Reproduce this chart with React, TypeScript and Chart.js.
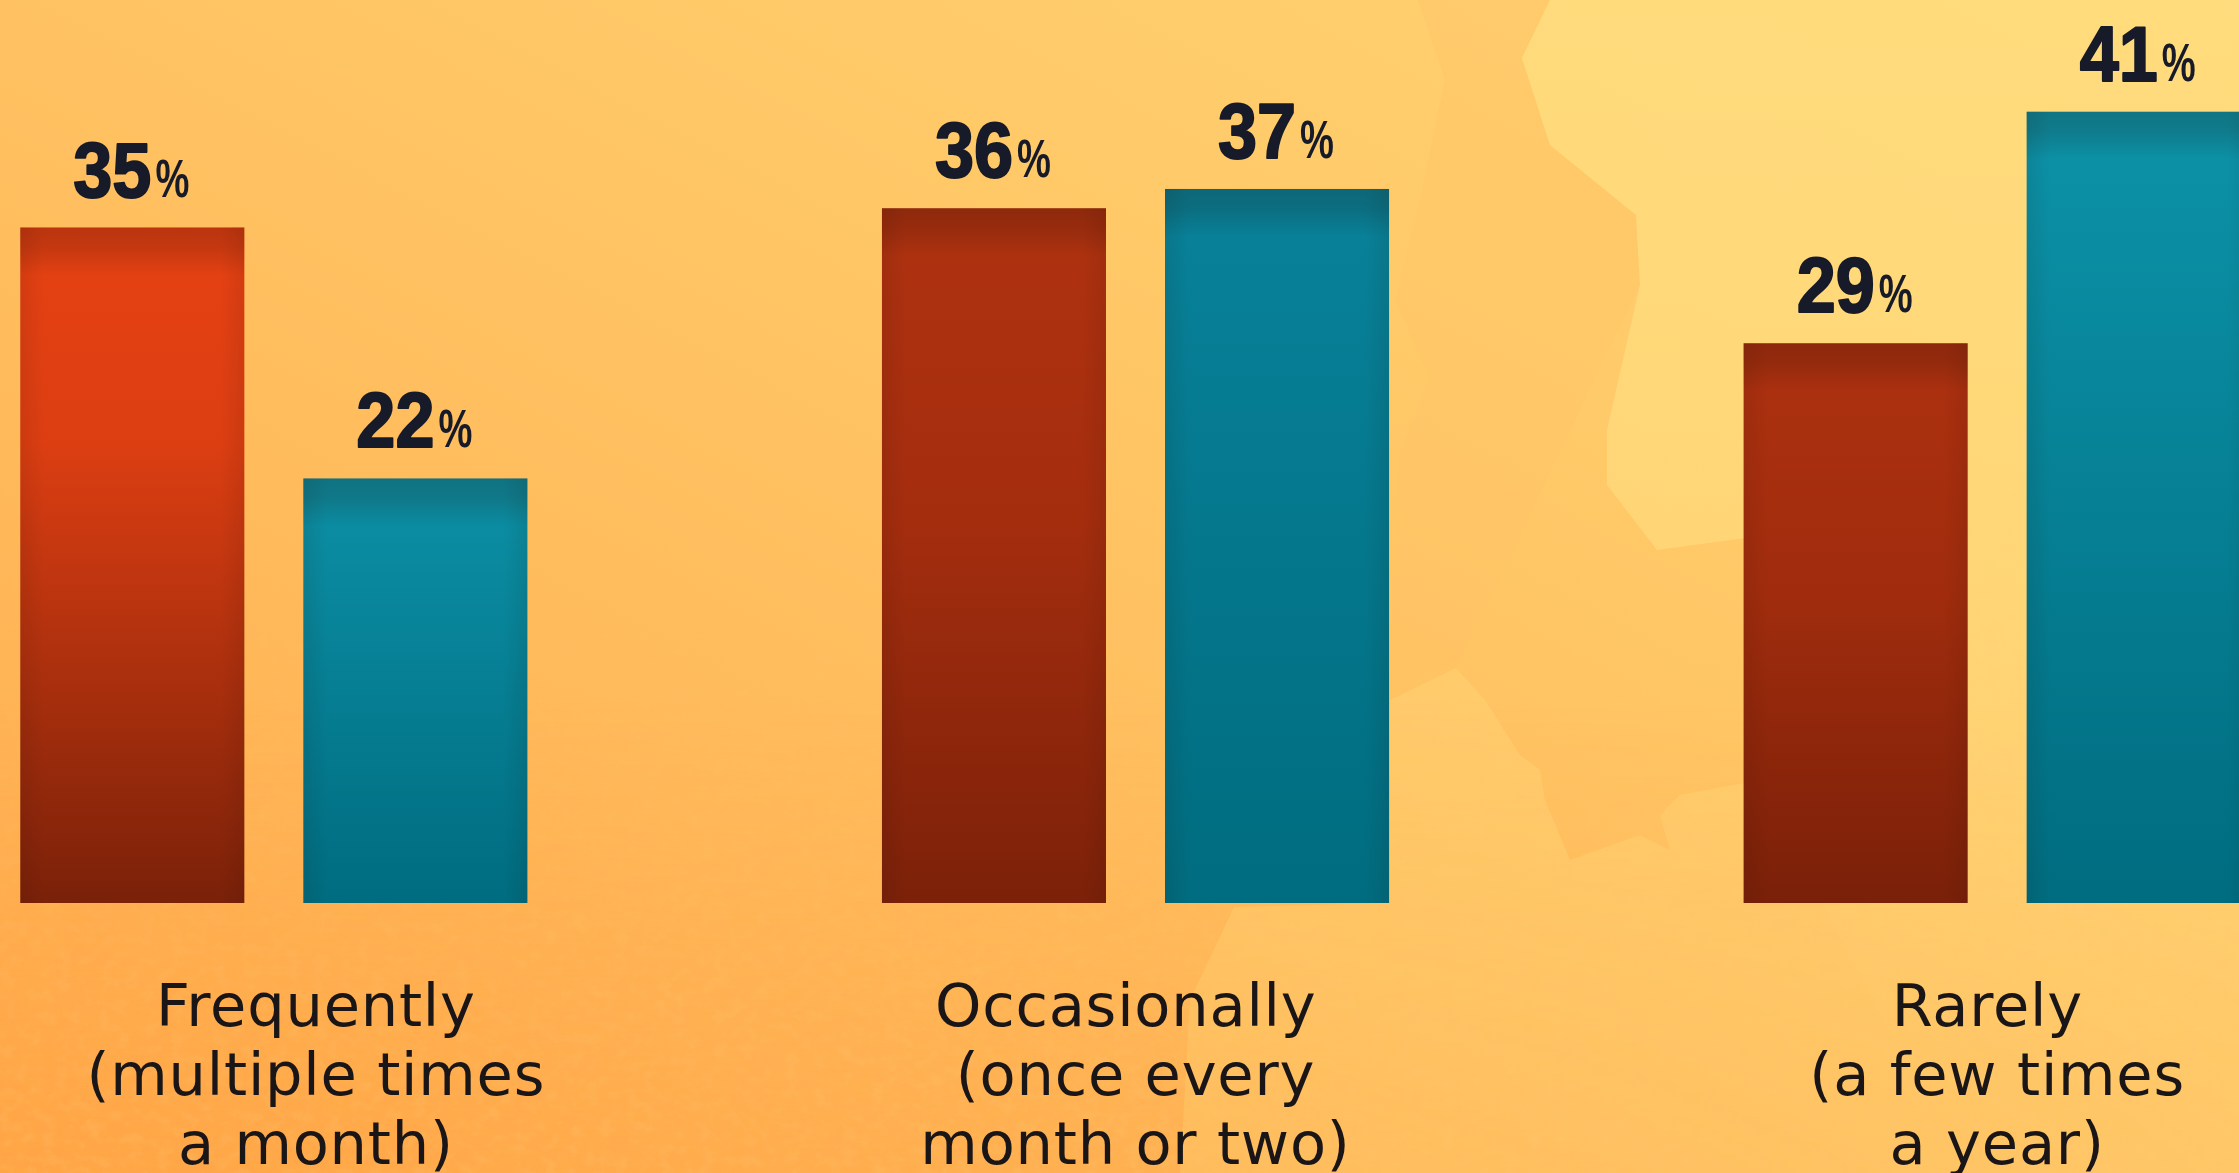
import React, { useEffect, useRef } from "react";
import { Chart, registerables } from "chart.js";

Chart.register(...registerables);

const categories = [
  ["Frequently", "(multiple times", "a month)"],
  ["Occasionally ", "(once every", "month or two)"],
  ["Rarely ", "(a few times", "a year)"],
];
const redValues = [35, 36, 29];
const tealValues = [22, 37, 41];
const redTop = ["#E64113", "#AF3210", "#AD3110"];
const redMid = ["#DC3E12", "#A42D0E", "#A02C0D"];
const redBottom = ["#7A2109", "#7C2109", "#7A2009"];
const tealTop = ["#0C90A6", "#08829A", "#0C93A9"];
const tealBottom = ["#006C80", "#006C7F", "#006C80"];
const tickShift = [42, 0, 0];

const W = 2585;
const H = 1173;

const barFill = (tops: string[], mids: string[] | null, bottoms: string[]) => (ctx: any) => {
  const c = ctx.chart;
  if (!c.chartArea || ctx.dataIndex === undefined) return tops[0];
  const i = ctx.dataIndex;
  const yScale = c.scales.y;
  const top = yScale.getPixelForValue(ctx.raw);
  const bottom = yScale.getPixelForValue(0);
  const g = c.ctx.createLinearGradient(0, top, 0, bottom);
  g.addColorStop(0, tops[i]);
  if (mids) {
    g.addColorStop(i === 0 ? 0.32 : 0.45, mids[i]);
  }
  g.addColorStop(1, bottoms[i]);
  return g;
};

const plugin = {
  id: "decor",
  beforeDraw(chart: any) {
    const items = chart.scales.x.getLabelItems();
    items.forEach((it: any, idx: number) => {
      if (!it.__moved) {
        it.options.translation[0] += tickShift[idx];
        it.__moved = true;
      }
    });
    (chart.ctx as any).letterSpacing = "0.8px";
  },
  afterDatasetsDraw(chart: any) {
    const ctx = chart.ctx;
    chart.data.datasets.forEach((ds: any, d: number) => {
      chart.getDatasetMeta(d).data.forEach((bar: any, i: number) => {
        const left = bar.x - bar.width / 2;
        const right = bar.x + bar.width / 2;
        const top = bar.y;
        const bottom = bar.base;
        ctx.save();
        (ctx as any).letterSpacing = "0px";
        let g = ctx.createLinearGradient(0, top, 0, top + 48);
        g.addColorStop(0, "rgba(30,10,0,0.22)");
        g.addColorStop(0.4, "rgba(30,10,0,0.17)");
        g.addColorStop(1, "rgba(30,10,0,0)");
        ctx.fillStyle = g;
        ctx.fillRect(left, top, bar.width, 48);
        g = ctx.createLinearGradient(left, 0, left + 24, 0);
        g.addColorStop(0, "rgba(30,10,0,0.09)");
        g.addColorStop(1, "rgba(30,10,0,0)");
        ctx.fillStyle = g;
        ctx.fillRect(left, top, 24, bottom - top);
        g = ctx.createLinearGradient(right, 0, right - 24, 0);
        g.addColorStop(0, "rgba(30,10,0,0.09)");
        g.addColorStop(1, "rgba(30,10,0,0)");
        ctx.fillStyle = g;
        ctx.fillRect(right - 24, top, 24, bottom - top);

        // value label: condensed heavy digits with a smaller percent sign
        const num = String(ds.data[i]);
        const numFont = 'bold 78px "Liberation Sans", sans-serif';
        const pctFont = 'bold 53px "Liberation Sans", sans-serif';
        const numScale = 0.9;
        const pctScale = 0.72;
        ctx.font = numFont;
        const nw = ctx.measureText(num).width * numScale;
        ctx.font = pctFont;
        const pw = ctx.measureText("%").width * pctScale;
        const x0 = bar.x - (nw + pw + 4) / 2 - 1;
        const y0 = top - 31;
        ctx.fillStyle = "#171A28";
        ctx.strokeStyle = "#171A28";
        ctx.lineJoin = "round";
        ctx.textAlign = "left";
        ctx.textBaseline = "alphabetic";
        ctx.save();
        ctx.translate(x0, y0);
        ctx.scale(numScale, 1);
        ctx.font = numFont;
        ctx.lineWidth = 2;
        ctx.strokeText(num, 0, 0);
        ctx.fillText(num, 0, 0);
        ctx.restore();
        ctx.save();
        ctx.translate(x0 + nw + 4, y0);
        ctx.scale(pctScale, 1);
        ctx.font = pctFont;
        ctx.fillText("%", 0, 0);
        ctx.restore();
        ctx.restore();
      });
    });
  },
};

export default function App() {
  const ref = useRef<HTMLCanvasElement>(null);
  useEffect(() => {
    const chart = new Chart(ref.current!, {
      type: "bar",
      plugins: [plugin],
      data: {
        labels: categories as any,
        datasets: [
          {
            label: "Red",
            data: redValues,
            backgroundColor: barFill(redTop, redMid, redBottom) as any,
            barPercentage: 0.7915,
            categoryPercentage: 0.657,
          },
          {
            label: "Teal",
            data: tealValues,
            backgroundColor: barFill(tealTop, null, tealBottom) as any,
            barPercentage: 0.7915,
            categoryPercentage: 0.657,
          },
        ],
      },
      options: {
        responsive: false,
        animation: false,
        devicePixelRatio: 1,
        layout: { padding: 0 },
        plugins: { legend: { display: false }, tooltip: { enabled: false } },
        scales: {
          x: {
            grid: { display: false },
            border: { display: false },
            afterFit(scale: any) {
              scale.height = H - 903;
            },
            ticks: {
              autoSkip: false,
              maxRotation: 0,
              minRotation: 0,
              padding: 65,
              color: "#1A1618",
              font: { family: "DejaVu Sans", size: 59, weight: "400", lineHeight: 69 / 59 },
            },
          },
          y: { display: false, min: 0, max: 903 / 19.3 },
        },
      } as any,
    });
    return () => chart.destroy();
  }, []);

  return (
    <div style={{ position: "fixed", inset: 0, overflow: "hidden", background: "#FFC465" }}>
      <svg
        viewBox="0 0 2239 1173"
        width={2239}
        height={1173}
        style={{ position: "absolute", left: 0, top: 0 }}
      >
        <defs>
          <linearGradient id="base" x1="0" y1="1" x2="1" y2="0">
            <stop offset="0" stopColor="#FFAA4C" />
            <stop offset="0.35" stopColor="#FFBB5C" />
            <stop offset="0.7" stopColor="#FFCB6A" />
            <stop offset="1" stopColor="#FFD372" />
          </linearGradient>
          <linearGradient id="fade" x1="0" y1="0" x2="0" y2="1">
            <stop offset="0" stopColor="#FF9A38" stopOpacity="0" />
            <stop offset="1" stopColor="#FF9A38" stopOpacity="0.3" />
          </linearGradient>
          <linearGradient id="fadeX" x1="0" y1="0" x2="1" y2="0">
            <stop offset="0" stopColor="#fff" />
            <stop offset="0.55" stopColor="#999" />
            <stop offset="1" stopColor="#333" />
          </linearGradient>
          <mask id="fadeM">
            <rect x="0" y="0" width="2239" height="1173" fill="url(#fadeX)" />
          </mask>
          <linearGradient id="light" gradientUnits="userSpaceOnUse" x1="0" y1="0" x2="0" y2="1050">
            <stop offset="0" stopColor="#FFDE80" stopOpacity="0.75" />
            <stop offset="0.55" stopColor="#FFDE80" stopOpacity="0.45" />
            <stop offset="1" stopColor="#FFDE80" stopOpacity="0" />
          </linearGradient>
          <filter id="noise" x="0" y="0" width="100%" height="100%">
            <feTurbulence type="fractalNoise" baseFrequency="0.07 0.09" numOctaves="3" seed="4" />
            <feColorMatrix values="0 0 0 0 0.98  0 0 0 0 0.56  0 0 0 0 0.16  0 0 0 3.5 -1.6" />
          </filter>
          <linearGradient id="noiseFade" x1="0" y1="0" x2="0" y2="1">
            <stop offset="0" stopColor="#000" />
            <stop offset="1" stopColor="#aaa" />
          </linearGradient>
          <mask id="noiseM">
            <rect x="0" y="420" width="2239" height="753" fill="url(#noiseFade)" />
          </mask>
        </defs>
        <rect width="2239" height="1173" fill="url(#base)" />
        <path
          d="M1418,0 L1445,80 L1420,200 L1395,300 L1430,380 L1400,450 L1390,668 L1456,668 L1640,285 L1636,215 L1550,145 L1522,58 L1550,0 Z"
          fill="#FFC466"
          opacity="0.35"
        />
        <path
          d="M1550,0 L1522,58 L1550,145 L1636,215 L1640,285 L1607,430 L1607,485 L1657,550 L1760,536 L1760,780 L1680,795 L1660,815 L1670,850 L1640,835 L1570,860 L1545,800 L1540,770 L1520,755 L1485,700 L1456,668 L1390,700 L1390,903 L1234,907 L1190,1000 L1180,1173 L2239,1173 L2239,0 Z"
          fill="#FFD678"
          opacity="0.42"
        />
        <path
          d="M1550,0 L2239,0 L2239,1173 L1960,1173 L1760,780 L1760,536 L1657,550 L1607,485 L1607,430 L1640,285 L1636,215 L1550,145 L1522,58 Z"
          fill="url(#light)"
        />
        <rect y="700" width="2239" height="473" fill="url(#fade)" mask="url(#fadeM)" />
        <rect width="2239" height="1173" filter="url(#noise)" mask="url(#noiseM)" opacity="0.3" />
      </svg>
      <canvas
        ref={ref}
        width={W}
        height={H}
        style={{ position: "absolute", left: -157, top: 0, width: W, height: H, display: "block" }}
      />
    </div>
  );
}
